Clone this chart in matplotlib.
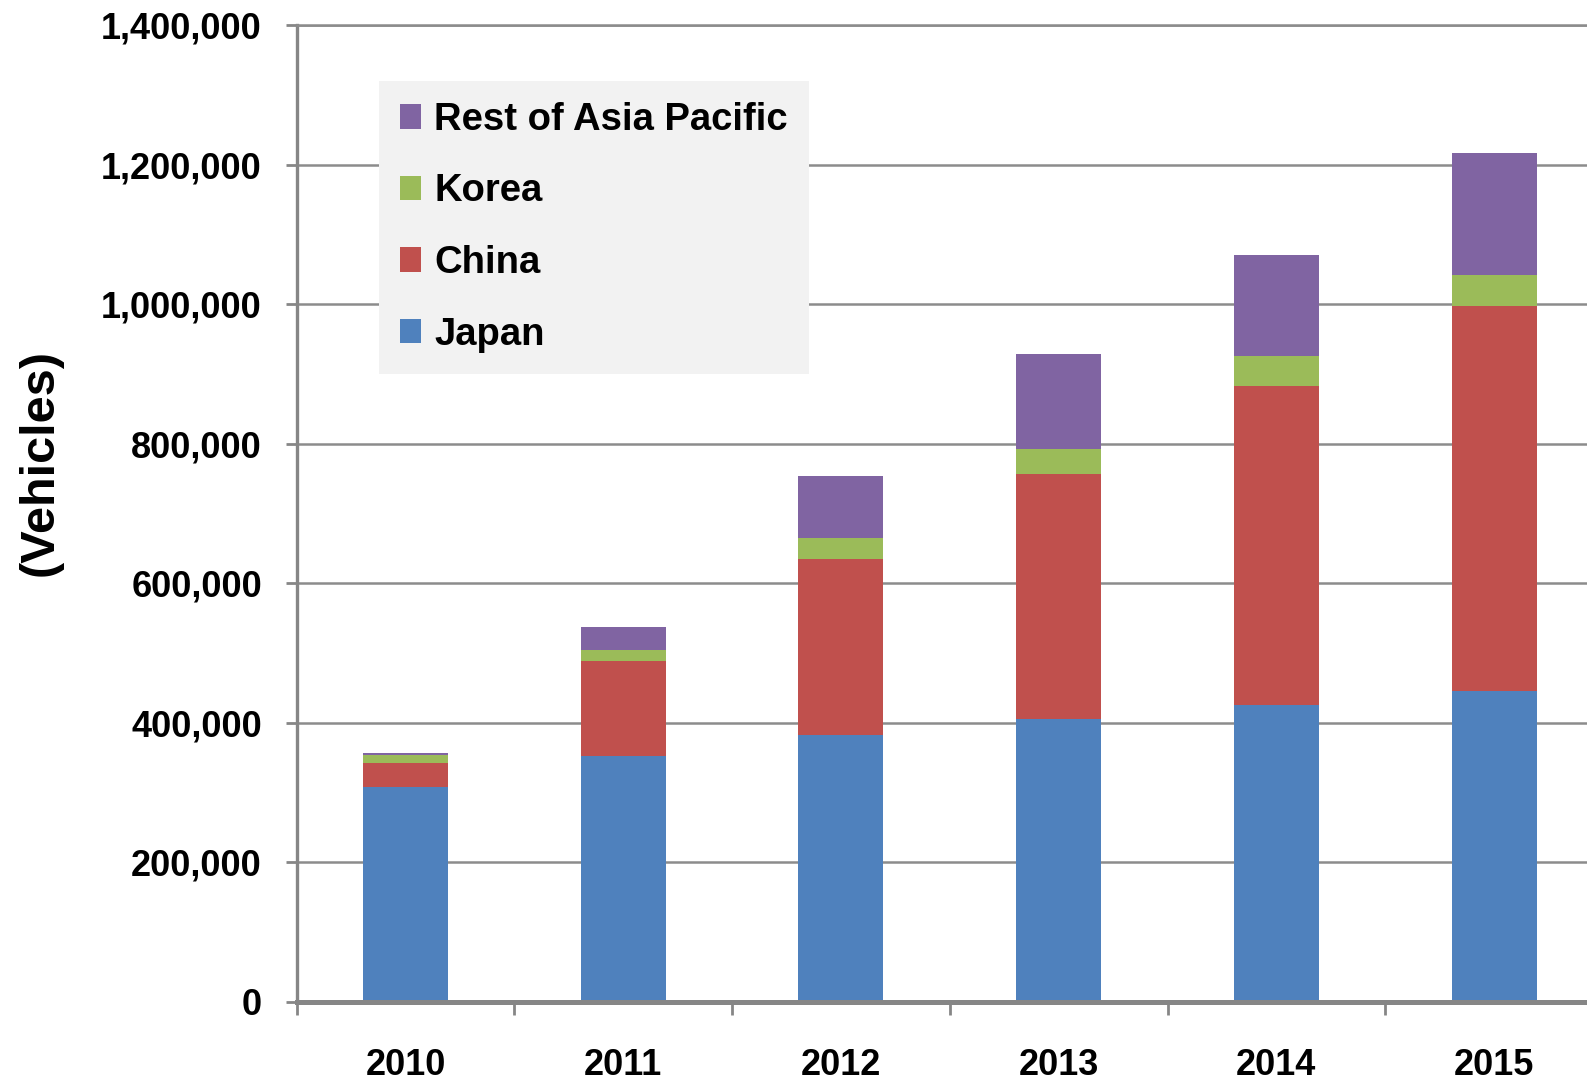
#!/usr/bin/env python3

import matplotlib
matplotlib.use('Agg')
import matplotlib.pyplot as plt
from matplotlib.ticker import FuncFormatter, FixedLocator


# DATA

years = ['2010', '2011', '2012', '2013', '2014', '2015']
japan = [308000, 353000, 382000, 406000, 426000, 445000]
china = [34000, 135000, 253000, 351000, 456000, 553000]
korea = [12000, 16000, 30000, 35000, 43000, 44000]
rest_of_asia = [3000, 34000, 88000, 137000, 146000, 175000]

series_names = ['Japan', 'China', 'Korea', 'Rest of Asia Pacific']
series_colors = ['#4F81BD', '#C0504D', '#9BBB59', '#8064A2']

y_ticks = [0, 200000, 400000, 600000, 800000, 1000000, 1200000, 1400000]


# FUNCTIONS

# Stacked bars, one column per year
def draw_bars(ax):
    x = list(range(len(years)))
    bottom = [0] * len(years)
    for name, values, color in zip(series_names, [japan, china, korea, rest_of_asia], series_colors):
        ax.bar(x, values, width=0.39, bottom=bottom, color=color, label=name, zorder=3)
        bottom = [b + v for b, v in zip(bottom, values)]


# Axis styling in the old Excel look
def style_axes(ax):
    grey = '#868686'
    ax.set_xlim(-0.5, len(years) - 0.5)
    ax.set_ylim(0, 1400000)

    ax.yaxis.set_major_locator(FixedLocator(y_ticks))
    ax.yaxis.set_major_formatter(FuncFormatter(lambda v, p: f'{int(v):,}'))
    ax.grid(axis='y', color='#8c8c8c', linewidth=1.8, zorder=0)

    ax.set_xticks(range(len(years)))
    ax.set_xticklabels(years)
    ax.set_xticks([i - 0.5 for i in range(len(years))], minor=True)
    ax.tick_params(axis='x', which='major', length=0, pad=33)
    ax.tick_params(axis='x', which='minor', length=9.5, width=2, color=grey)
    ax.tick_params(axis='y', length=8, width=2, color=grey, pad=17)

    for lbl in ax.get_xticklabels() + ax.get_yticklabels():
        lbl.set_fontsize(26)
        lbl.set_fontweight('bold')

    ax.spines['right'].set_visible(False)
    ax.spines['top'].set_color('#8c8c8c')
    ax.spines['top'].set_linewidth(1.8)
    ax.spines['left'].set_color(grey)
    ax.spines['left'].set_linewidth(2.4)
    ax.spines['bottom'].set_color(grey)
    ax.spines['bottom'].set_linewidth(3.6)
    ax.spines['bottom'].set_zorder(4)


# Legend box listed top-down in reverse stack order
def add_legend(ax):
    handles, labels = ax.get_legend_handles_labels()
    leg = ax.legend(handles[::-1], labels[::-1], loc='upper left',
                    bbox_to_anchor=(0.0631, 0.9427), borderaxespad=0,
                    prop={'size': 27.5, 'weight': 'bold'},
                    handlelength=0.55, handleheight=0.6, handletextpad=0.35,
                    labelspacing=0.93, borderpad=0.55,
                    fancybox=False, framealpha=1, facecolor='#f2f2f2', edgecolor='none')
    leg.set_zorder(5)


def main():
    plt.rcParams['font.family'] = ['Liberation Sans', 'DejaVu Sans']
    fig = plt.figure(figsize=(15.87, 10.81), dpi=100)
    ax = fig.add_axes([0.1869, 0.0731, 0.8232, 0.9038])

    draw_bars(ax)
    style_axes(ax)
    add_legend(ax)

    fig.text(40 / 1587, 1 - 463 / 1081, '(Vehicles)', rotation=90, ha='center', va='center',
             fontsize=35, fontweight='bold')

    fig.savefig('out.png', dpi=100)
    plt.close(fig)


if __name__ == "__main__":
    main()
